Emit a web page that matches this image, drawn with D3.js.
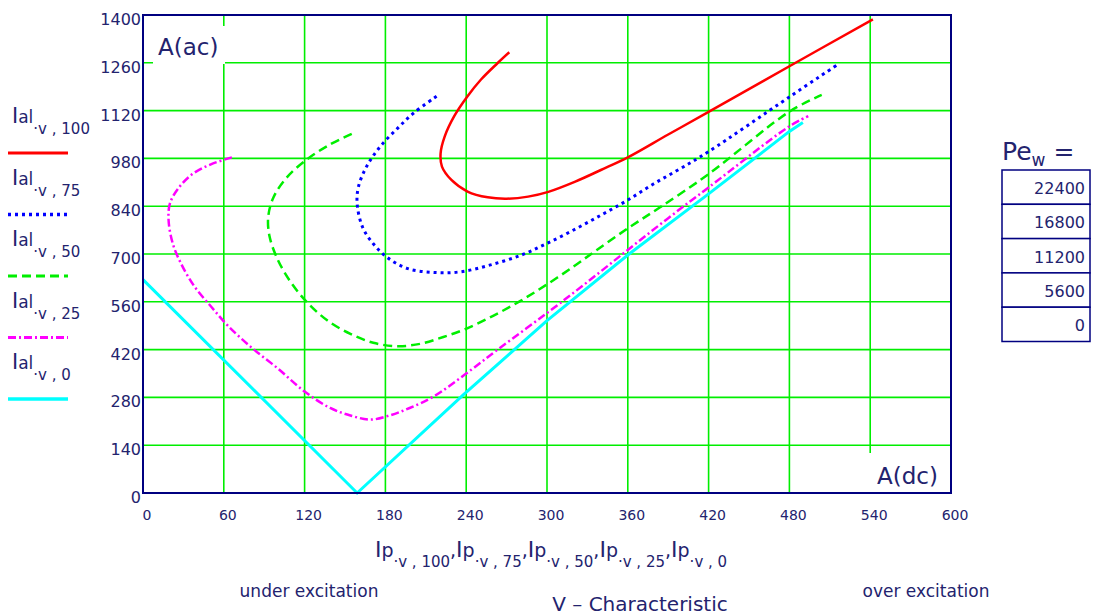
<!DOCTYPE html>
<html>
<head>
<meta charset="utf-8">
<script src="https://cdn.jsdelivr.net/npm/d3@7"></script>
<style>
  body { margin: 0; background: #fff; }
  text { font-family: "DejaVu Sans", Verdana, sans-serif; fill: #23236e; }
</style>
</head>
<body>
<div id="chart-container"></div>
<script>
// field current (x) and armature current (y) per load level
const ipV100 = [272, 263, 251, 241, 231, 224, 221, 222, 229, 241, 256, 270, 286, 301, 321, 340, 360, 390, 420, 480, 542];
const ialV100 = [1291, 1258, 1211, 1162, 1103, 1044, 995, 956, 917, 883, 866, 862, 868, 882, 912, 946, 983, 1050, 1116, 1250, 1387];

const ipV75 = [218, 201, 189, 176, 166, 160, 159, 163, 171, 181, 196, 216, 236, 258, 281, 300, 322, 342, 360, 379, 399, 420, 480, 517];
const ialV75 = [1162, 1113, 1068, 1014, 956, 897, 848, 779, 730, 691, 658, 646, 648, 668, 697, 731, 775, 818, 858, 905, 950, 1000, 1160, 1258];

const ipV50 = [155, 139, 122, 107, 97, 93, 94, 100, 110, 122, 137, 154, 171, 189, 206, 223, 240, 260, 280, 300, 320, 337, 360, 384, 420, 480, 504];
const ialV50 = [1052, 1021, 978, 925, 867, 809, 751, 684, 616, 558, 505, 466, 440, 430, 437, 457, 481, 519, 562, 611, 664, 712, 775, 837, 934, 1117, 1166];

const ipV25 = [66, 50, 36, 26, 20, 19, 22, 28, 38, 51, 63, 80, 100, 120, 139, 154, 169, 183, 198, 216, 240, 265, 300, 330, 360, 390, 420, 480, 494];
const ialV25 = [983, 962, 932, 891, 848, 799, 732, 674, 606, 544, 490, 428, 365, 297, 249, 227, 215, 227, 249, 283, 350, 425, 527, 618, 712, 805, 895, 1074, 1104];

const ipV0 = [0, 159, 238, 300, 360, 420, 480, 490];
const ialV0 = [625, 0, 288, 505, 697, 876, 1059, 1085];

const loadLevels = ['100', '75', '50', '25', '0'];
const peValues = ['22400', '16800', '11200', '5600', '0'];
const xTicks = [0, 60, 120, 180, 240, 300, 360, 420, 480, 540, 600];
const yTicks = [0, 140, 280, 420, 560, 700, 840, 980, 1120, 1260, 1400];

const series = [
    { xs: ipV100, ys: ialV100, color: '#ff0000', dash: null, width: 2.5, curve: d3.curveCatmullRom },
    { xs: ipV75, ys: ialV75, color: '#0000ff', dash: '3,4', width: 3, curve: d3.curveCatmullRom },
    { xs: ipV50, ys: ialV50, color: '#00ee00', dash: '9,5', width: 2.5, curve: d3.curveCatmullRom },
    { xs: ipV25, ys: ialV25, color: '#ff00ff', dash: '8,3,2,3', width: 2.5, curve: d3.curveCatmullRom },
    { xs: ipV0, ys: ialV0, color: '#00ffff', dash: null, width: 3, curve: d3.curveLinear },
];

const margin = { top: 15, right: 142, bottom: 123, left: 143 };
const totalW = 1093, totalH = 616;
const width = totalW - margin.left - margin.right;
const height = totalH - margin.top - margin.bottom;

const root = d3.select('#chart-container')
    .append('svg')
    .attr('width', totalW)
    .attr('height', totalH);

const svg = root.append('g')
    .attr('transform', `translate(${margin.left},${margin.top})`);

const x = d3.scaleLinear().domain([0, 600]).range([0, width]);
const y = d3.scaleLinear().domain([0, 1400]).range([height, 0]);

// grid
svg.append('g')
    .selectAll('line')
    .data(xTicks.slice(1, -1))
    .join('line')
    .attr('x1', (d) => x(d)).attr('x2', (d) => x(d))
    .attr('y1', 0).attr('y2', height)
    .attr('stroke', '#00ee00').attr('stroke-width', 1.6);

svg.append('g')
    .selectAll('line')
    .data(yTicks.slice(1, -1))
    .join('line')
    .attr('x1', 0).attr('x2', width)
    .attr('y1', (d) => y(d)).attr('y2', (d) => y(d))
    .attr('stroke', '#00ee00').attr('stroke-width', 1.6);

// white boxes behind the in-plot axis names
svg.append('rect').attr('x', 10).attr('y', 11).attr('width', 72).attr('height', 38).attr('fill', '#fff');
svg.append('rect').attr('x', 718).attr('y', 438).attr('width', 90).attr('height', 40).attr('fill', '#fff');

// curves
series.forEach((s) => {
    const line = d3.line()
        .x((d) => x(d[0]))
        .y((d) => y(d[1]))
        .curve(s.curve);
    svg.append('path')
        .datum(s.xs.map((v, i) => [v, s.ys[i]]))
        .attr('fill', 'none')
        .attr('stroke', s.color)
        .attr('stroke-width', s.width)
        .attr('stroke-dasharray', s.dash)
        .attr('d', line);
});

// frame
svg.append('rect')
    .attr('width', width).attr('height', height)
    .attr('fill', 'none').attr('stroke', '#000080').attr('stroke-width', 2);

// tick labels
svg.append('g')
    .selectAll('text')
    .data(yTicks)
    .join('text')
    .attr('x', -2)
    .attr('y', (d) => y(d) + 10)
    .attr('text-anchor', 'end')
    .style('font-size', '16px')
    .text((d) => d);

svg.append('g')
    .selectAll('text')
    .data(xTicks)
    .join('text')
    .attr('x', (d) => x(d) + 4)
    .attr('y', height + 27)
    .attr('text-anchor', 'middle')
    .style('font-size', '14px')
    .text((d) => d);

svg.append('text').attr('x', 15).attr('y', 40).style('font-size', '23px').text('A(ac)');
svg.append('text').attr('x', 795).attr('y', 469).attr('text-anchor', 'end').style('font-size', '23px').text('A(dc)');

// legend on the left
loadLevels.forEach((lv, i) => {
    const top = 123 + i * 61.5;
    const t = root.append('text').attr('x', 12).attr('y', top);
    t.append('tspan').style('font-size', '21px').text('I');
    t.append('tspan').style('font-size', '17px').text('al');
    t.append('tspan').attr('dy', 11).style('font-size', '15px').text('\u00b7v , ' + lv);
    const s = series[i];
    root.append('line')
        .attr('x1', 8).attr('x2', 68)
        .attr('y1', top + 30).attr('y2', top + 30)
        .attr('stroke', s.color)
        .attr('stroke-width', s.width + 0.5)
        .attr('stroke-dasharray', s.dash);
});

// x axis variable names
const xl = root.append('text').attr('x', 551).attr('y', 557).attr('text-anchor', 'middle');
loadLevels.forEach((lv, i) => {
    xl.append('tspan').style('font-size', '22px').text('I');
    xl.append('tspan').style('font-size', '19px').text('p');
    xl.append('tspan').attr('dy', 10).style('font-size', '15px').text('\u00b7v , ' + lv);
    if (i < loadLevels.length - 1) {
        xl.append('tspan').attr('dy', -10).style('font-size', '19px').text(',');
    }
});

root.append('text').attr('x', 309).attr('y', 597).attr('text-anchor', 'middle').style('font-size', '17px').text('under excitation');
root.append('text').attr('x', 926).attr('y', 597).attr('text-anchor', 'middle').style('font-size', '17px').text('over excitation');
root.append('text').attr('x', 640).attr('y', 611).attr('text-anchor', 'middle').style('font-size', '20px').text('V \u2013 Characteristic');

// Pe table
const pe = root.append('text').attr('x', 1002).attr('y', 160);
pe.append('tspan').style('font-size', '25px').text('Pe');
pe.append('tspan').attr('dy', 6).style('font-size', '17px').text('w');
pe.append('tspan').attr('dy', -6).style('font-size', '25px').text(' =');

const rowH = 34.3;
root.append('g')
    .selectAll('rect')
    .data(peValues)
    .join('rect')
    .attr('x', 1002).attr('y', (d, i) => 170 + i * rowH)
    .attr('width', 88).attr('height', rowH)
    .attr('fill', '#fff').attr('stroke', '#000080').attr('stroke-width', 1.5);

root.append('g')
    .selectAll('text')
    .data(peValues)
    .join('text')
    .attr('x', 1085).attr('y', (d, i) => 170 + i * rowH + 24)
    .attr('text-anchor', 'end')
    .style('font-size', '16px')
    .text((d) => d);
</script>
</body>
</html>
